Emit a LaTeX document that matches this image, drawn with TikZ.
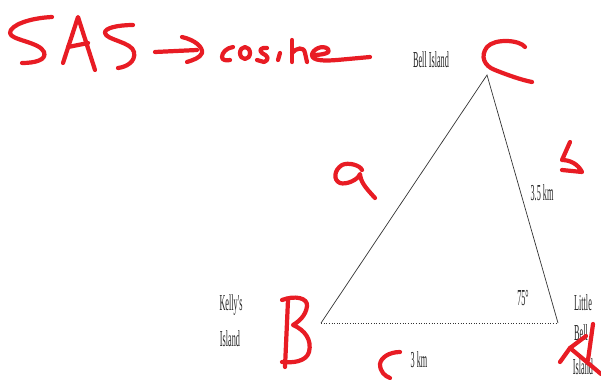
\documentclass[tikz,border=0pt]{standalone}
\usepackage{fontspec}
\newfontfamily\narrowfont[FakeStretch=0.36]{Liberation Serif}
\definecolor{inkred}{RGB}{232,28,36}
\tikzset{
  ink/.style={draw=inkred, line width=2.4pt, line cap=round, line join=round},
  lbl/.style={font=\narrowfont\fontsize{13}{13}\selectfont, inner sep=0pt, text=black!85},
}
\begin{document}
\begin{tikzpicture}[x=0.02cm, y=-0.02cm]
  \useasboundingbox (0,0) rectangle (601,379);
  % Triangle
  \coordinate (B) at (321,323);
  \coordinate (A) at (558,323);
  \coordinate (C) at (487,75);
  \draw[line width=0.4pt, black!80] (B) -- (C) -- (A);
  \draw[line width=0.5pt, black!80, densely dotted] (B) -- (A);
  % Etiquettes
  \node[lbl] (bell) at (431,60) {Bell Island};
  \node[lbl] (side) at (542,193) {3.5 km};
  \node[lbl] (angle) at (523,298) {75°};
  \node[lbl] (kelly1) at (231,305) {Kelly's};
  \node[lbl] (kelly2) at (230,339) {Island};
  \node[lbl] (base) at (419,360) {3 km};
  \node[lbl] (little1) at (583,303) {Little};
  \node[lbl] (little2) at (581,333) {Bell};
  \node[lbl] (little3) at (583,367) {Island};
  % Notes a la main : SAS -> cosine
  \draw[ink] (52,17) .. controls (30,18) and (10,25) .. (10,33)
    .. controls (10,40) and (40,42) .. (44,52)
    .. controls (47,60) and (35,63) .. (22,63);
  \draw[ink] (63,63) -- (78,17) -- (95,70);
  \draw[ink] (68,47) -- (88,43);
  \draw[ink] (133,25) .. controls (118,25) and (104,28) .. (105,33)
    .. controls (106,40) and (132,42) .. (134,52)
    .. controls (136,62) and (126,67) .. (118,68);
  \draw[ink] (155,52) -- (197,50);
  \draw[ink] (182,37) .. controls (195,40) and (203,47) .. (202,53)
    .. controls (200,58) and (193,60) .. (187,62);
  \draw[ink] (233,47) .. controls (226,48) and (222,53) .. (222,57)
    .. controls (222,60) and (226,61) .. (230,60);
  \draw[ink] (245,53) ellipse (5 and 6);
  \draw[ink] (267,48) .. controls (262,47) and (258,50) .. (262,53)
    .. controls (268,56) and (270,59) .. (264,62) -- (257,60);
  \draw[ink] (280,53) -- (278,60);
  \draw[ink] (292,40) -- (292,62);
  \draw[ink] (292,53) .. controls (296,48) and (304,46) .. (305,53) -- (307,62);
  \draw[ink] (313,55) .. controls (322,55) and (332,53) .. (328,49)
    .. controls (322,44) and (312,50) .. (312,55)
    .. controls (312,61) and (325,61) .. (337,60) -- (370,57);
  % Notes a la main : sommets et cotes
  \draw[ink] (525,47) .. controls (520,40) and (495,38) .. (487,47)
    .. controls (480,56) and (484,66) .. (495,70)
    .. controls (510,76) and (522,80) .. (532,82);
  \draw[ink] (570,142) -- (562,160)
    .. controls (570,160) and (578,164) .. (582,172) -- (562,170);
  \draw[ink] (362,170) .. controls (360,165) and (348,162) .. (342,165)
    .. controls (334,170) and (333,180) .. (340,183)
    .. controls (346,185) and (358,180) .. (360,174)
    .. controls (361,182) and (364,186) .. (375,198);
  \draw[ink] (288,300) -- (285,367);
  \draw[ink] (282,300) .. controls (295,295) and (308,298) .. (307,306)
    .. controls (306,316) and (298,322) .. (293,325)
    .. controls (305,330) and (312,340) .. (309,352)
    .. controls (306,362) and (292,363) .. (282,362);
  \draw[ink] (400,352) .. controls (390,352) and (381,357) .. (380,364)
    .. controls (380,372) and (385,376) .. (390,378);
  \draw[ink] (560,362) -- (570,348) -- (586,336);
  \draw[ink] (593,324) -- (588,360);
  \draw[ink] (570,348) -- (588,363) -- (601,374);
\end{tikzpicture}
\end{document}
